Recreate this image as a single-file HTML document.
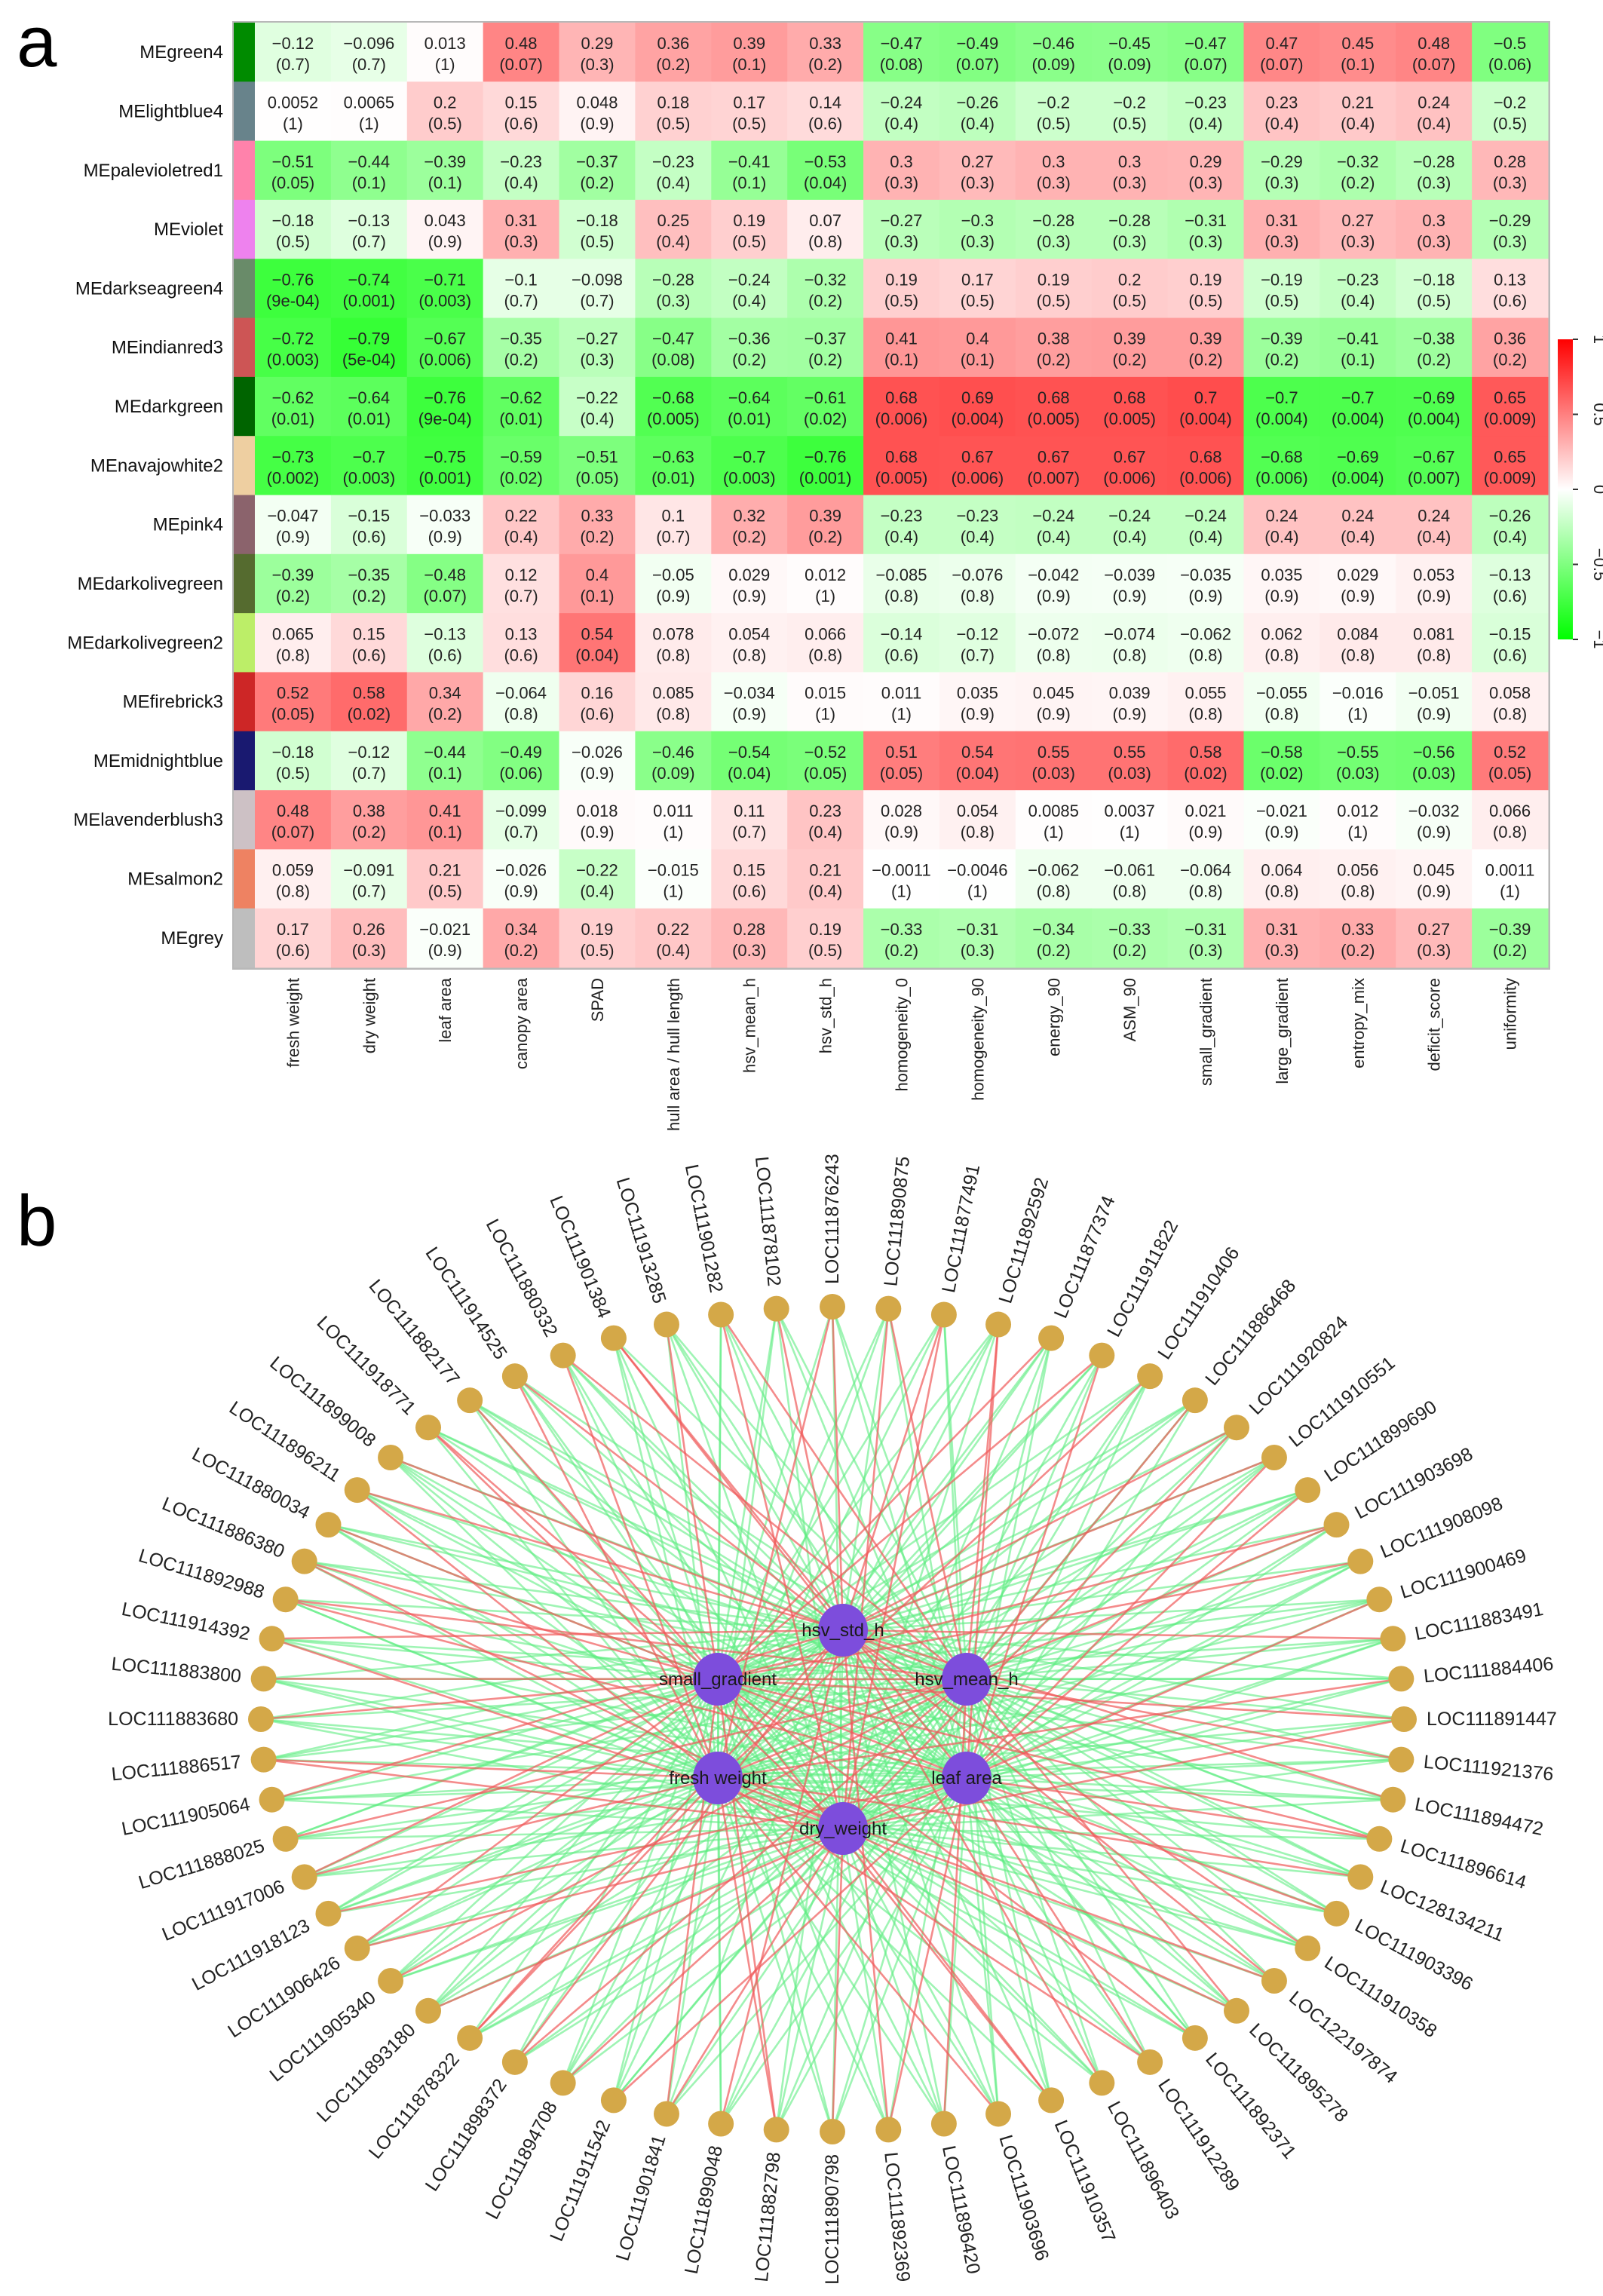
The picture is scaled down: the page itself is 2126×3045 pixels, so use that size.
<!DOCTYPE html>
<html><head><meta charset="utf-8">
<style>
html,body{margin:0;padding:0;background:#fff;}
svg{display:block;font-family:"Liberation Sans",Arial,sans-serif;}
</style></head>
<body>
<svg id="fig" width="2126" height="3045" viewBox="0 0 2126 3045" xmlns="http://www.w3.org/2000/svg">
<text x="22" y="88" font-size="96">a</text>
<text x="22" y="1652" font-size="96">b</text>
<g id="heat"></g>
<g id="legend"></g>
<g id="net"></g>
</svg>
<script>
const modules = ["MEgreen4","MElightblue4","MEpalevioletred1","MEviolet","MEdarkseagreen4","MEindianred3","MEdarkgreen","MEnavajowhite2","MEpink4","MEdarkolivegreen","MEdarkolivegreen2","MEfirebrick3","MEmidnightblue","MElavenderblush3","MEsalmon2","MEgrey"];
const moduleColors = ["#008b00","#68838b","#ff82ab","#ee82ee","#698b69","#cd5555","#006400","#eecfa1","#8b636c","#556b2f","#bcee68","#cd2626","#191970","#cdc1c5","#ee8262","#bebebe"];
const traits = ["fresh weight","dry weight","leaf area","canopy area","SPAD","hull area / hull length","hsv_mean_h","hsv_std_h","homogeneity_0","homogeneity_90","energy_90","ASM_90","small_gradient","large_gradient","entropy_mix","deficit_score","uniformity"];
const corr = [
[-0.12,-0.096,0.013,0.48,0.29,0.36,0.39,0.33,-0.47,-0.49,-0.46,-0.45,-0.47,0.47,0.45,0.48,-0.5],
[0.0052,0.0065,0.2,0.15,0.048,0.18,0.17,0.14,-0.24,-0.26,-0.2,-0.2,-0.23,0.23,0.21,0.24,-0.2],
[-0.51,-0.44,-0.39,-0.23,-0.37,-0.23,-0.41,-0.53,0.3,0.27,0.3,0.3,0.29,-0.29,-0.32,-0.28,0.28],
[-0.18,-0.13,0.043,0.31,-0.18,0.25,0.19,0.07,-0.27,-0.3,-0.28,-0.28,-0.31,0.31,0.27,0.3,-0.29],
[-0.76,-0.74,-0.71,-0.1,-0.098,-0.28,-0.24,-0.32,0.19,0.17,0.19,0.2,0.19,-0.19,-0.23,-0.18,0.13],
[-0.72,-0.79,-0.67,-0.35,-0.27,-0.47,-0.36,-0.37,0.41,0.4,0.38,0.39,0.39,-0.39,-0.41,-0.38,0.36],
[-0.62,-0.64,-0.76,-0.62,-0.22,-0.68,-0.64,-0.61,0.68,0.69,0.68,0.68,0.7,-0.7,-0.7,-0.69,0.65],
[-0.73,-0.7,-0.75,-0.59,-0.51,-0.63,-0.7,-0.76,0.68,0.67,0.67,0.67,0.68,-0.68,-0.69,-0.67,0.65],
[-0.047,-0.15,-0.033,0.22,0.33,0.1,0.32,0.39,-0.23,-0.23,-0.24,-0.24,-0.24,0.24,0.24,0.24,-0.26],
[-0.39,-0.35,-0.48,0.12,0.4,-0.05,0.029,0.012,-0.085,-0.076,-0.042,-0.039,-0.035,0.035,0.029,0.053,-0.13],
[0.065,0.15,-0.13,0.13,0.54,0.078,0.054,0.066,-0.14,-0.12,-0.072,-0.074,-0.062,0.062,0.084,0.081,-0.15],
[0.52,0.58,0.34,-0.064,0.16,0.085,-0.034,0.015,0.011,0.035,0.045,0.039,0.055,-0.055,-0.016,-0.051,0.058],
[-0.18,-0.12,-0.44,-0.49,-0.026,-0.46,-0.54,-0.52,0.51,0.54,0.55,0.55,0.58,-0.58,-0.55,-0.56,0.52],
[0.48,0.38,0.41,-0.099,0.018,0.011,0.11,0.23,0.028,0.054,0.0085,0.0037,0.021,-0.021,0.012,-0.032,0.066],
[0.059,-0.091,0.21,-0.026,-0.22,-0.015,0.15,0.21,-0.0011,-0.0046,-0.062,-0.061,-0.064,0.064,0.056,0.045,0.0011],
[0.17,0.26,-0.021,0.34,0.19,0.22,0.28,0.19,-0.33,-0.31,-0.34,-0.33,-0.31,0.31,0.33,0.27,-0.39]];
const pvals = [
["0.7","0.7","1","0.07","0.3","0.2","0.1","0.2","0.08","0.07","0.09","0.09","0.07","0.07","0.1","0.07","0.06"],
["1","1","0.5","0.6","0.9","0.5","0.5","0.6","0.4","0.4","0.5","0.5","0.4","0.4","0.4","0.4","0.5"],
["0.05","0.1","0.1","0.4","0.2","0.4","0.1","0.04","0.3","0.3","0.3","0.3","0.3","0.3","0.2","0.3","0.3"],
["0.5","0.7","0.9","0.3","0.5","0.4","0.5","0.8","0.3","0.3","0.3","0.3","0.3","0.3","0.3","0.3","0.3"],
["9e-04","0.001","0.003","0.7","0.7","0.3","0.4","0.2","0.5","0.5","0.5","0.5","0.5","0.5","0.4","0.5","0.6"],
["0.003","5e-04","0.006","0.2","0.3","0.08","0.2","0.2","0.1","0.1","0.2","0.2","0.2","0.2","0.1","0.2","0.2"],
["0.01","0.01","9e-04","0.01","0.4","0.005","0.01","0.02","0.006","0.004","0.005","0.005","0.004","0.004","0.004","0.004","0.009"],
["0.002","0.003","0.001","0.02","0.05","0.01","0.003","0.001","0.005","0.006","0.007","0.006","0.006","0.006","0.004","0.007","0.009"],
["0.9","0.6","0.9","0.4","0.2","0.7","0.2","0.2","0.4","0.4","0.4","0.4","0.4","0.4","0.4","0.4","0.4"],
["0.2","0.2","0.07","0.7","0.1","0.9","0.9","1","0.8","0.8","0.9","0.9","0.9","0.9","0.9","0.9","0.6"],
["0.8","0.6","0.6","0.6","0.04","0.8","0.8","0.8","0.6","0.7","0.8","0.8","0.8","0.8","0.8","0.8","0.6"],
["0.05","0.02","0.2","0.8","0.6","0.8","0.9","1","1","0.9","0.9","0.9","0.8","0.8","1","0.9","0.8"],
["0.5","0.7","0.1","0.06","0.9","0.09","0.04","0.05","0.05","0.04","0.03","0.03","0.02","0.02","0.03","0.03","0.05"],
["0.07","0.2","0.1","0.7","0.9","1","0.7","0.4","0.9","0.8","1","1","0.9","0.9","1","0.9","0.8"],
["0.8","0.7","0.5","0.9","0.4","1","0.6","0.4","1","1","0.8","0.8","0.8","0.8","0.8","0.9","1"],
["0.6","0.3","0.9","0.2","0.5","0.4","0.3","0.5","0.2","0.3","0.2","0.2","0.3","0.3","0.2","0.3","0.2"]];
const legendTicks = [1,0.5,0,-0.5,-1];
const genes = ["LOC111876243","LOC111890875","LOC111877491","LOC111892592","LOC111877374","LOC111911822","LOC111910406","LOC111886468","LOC111920824","LOC111910551","LOC111899690","LOC111903698","LOC111908098","LOC111900469","LOC111883491","LOC111884406","LOC111891447","LOC111921376","LOC111894472","LOC111896614","LOC128134211","LOC111903396","LOC111910358","LOC122197874","LOC111895278","LOC111892371","LOC111912289","LOC111896403","LOC111910357","LOC111903696","LOC111896420","LOC111892369","LOC111890798","LOC111882798","LOC111899048","LOC111901841","LOC111911542","LOC111894708","LOC111898372","LOC111878322","LOC111893180","LOC111905340","LOC111906426","LOC111918123","LOC111917006","LOC111888025","LOC111905064","LOC111886517","LOC111883680","LOC111883800","LOC111914392","LOC111892988","LOC111886380","LOC111880034","LOC111896211","LOC111899008","LOC111918771","LOC111882177","LOC111914525","LOC111880332","LOC111901384","LOC111913285","LOC111901282","LOC111878102"];
const hubs = ["hsv_std_h","small_gradient","hsv_mean_h","fresh weight","leaf area","dry_weight"];
// edge sign per gene, one char per hub (order as hubs): r = positive (red), g = negative (green)
const edgeSigns = ["rggrgg","ggrggr","rggggr","ggrgrg","grgggg","grggrg","gggrgg","ggrggg","rggggr","rgggrg","ggggrg","grgrgg","grgggg","ggggrg","rggggg","gggrgg","grgggr","ggrggg","rggggg","grggrg","gggrgg","ggggrg","rggggg","rggrgg","ggrggr","grgggg","gggrrg","rggggg","grgggr","gggrgg","ggrggg","rgggrg","gggggr","grgrgg","rggggg","grgggr","ggggrg","gggggr","rgrggg","rggrgg","ggggrg","ggrggg","grgggr","ggggrg","grgrgg","ggrggg","rggggg","gggrgr","grgggg","ggrggg","rggggr","ggrgrg","grgggr","ggggrg","rggrgg","ggrggg","grgggr","grgggg","rggrgg","ggrrgg","rgggrg","grgggg","ggrggr","rggggg"];

const NS="http://www.w3.org/2000/svg";
function mk(tag,attrs,parent,text){const e=document.createElementNS(NS,tag);for(const k in attrs)e.setAttribute(k,attrs[k]);if(text!==undefined)e.textContent=text;parent.appendChild(e);return e;}
function fmt(v){return (v<0?"\u2212":"")+String(Math.abs(v));}
function colorOf(v){const a=Math.min(1,Math.abs(v));const c=Math.round(255*(1-a));return v>=0?`rgb(255,${c},${c})`:`rgb(${c},255,${c})`;}

// ---- heatmap
const heat=document.getElementById('heat');
const X0=338,Y0=30,X1=2053,Y1=1283;
const cw=(X1-X0)/traits.length, rh=(Y1-Y0)/modules.length;
const xs=j=>X0+j*cw, ys=i=>Y0+i*rh;
const shadow=mk('rect',{x:X0-30,y:Y0-2,width:X1-X0+33,height:Y1-Y0+5,fill:'#b8b8b8'},heat);


modules.forEach((m,i)=>{
  const sw=mk('rect',{x:X0-28,y:ys(i),width:28,height:rh+0.5,fill:moduleColors[i]},heat);
  
  
  const lb=mk('text',{x:X0-42,y:ys(i)+rh/2+8,'font-size':24,'text-anchor':'end',fill:'#111'},heat,m);
  
  
  traits.forEach((t,j)=>{
    const v=corr[i][j];
    const r=mk('rect',{x:xs(j),y:ys(i),width:cw+0.5,height:rh+0.5,fill:colorOf(v)},heat);
    
    
    const tx=xs(j)+cw/2;
    const t1=mk('text',{x:tx,y:ys(i)+rh/2-4,'font-size':22,'text-anchor':'middle',fill:'#222'},heat,fmt(v));
    
    
    const t2=mk('text',{x:tx,y:ys(i)+rh/2+24,'font-size':22,'text-anchor':'middle',fill:'#222'},heat,'('+pvals[i][j]+')');
    
    
  });
});
traits.forEach((t,j)=>{
  const tx=xs(j)+cw/2+8;
  const lb=mk('text',{x:0,y:0,'font-size':22,'text-anchor':'end',fill:'#222',transform:`translate(${tx},${Y1+14}) rotate(-90)`},heat,t);
  
  
});

// ---- legend
const leg=document.getElementById('legend');
const defs=mk('defs',{},leg);
const gr=mk('linearGradient',{id:'lg',x1:0,y1:0,x2:0,y2:1},defs);
mk('stop',{offset:'0',  'stop-color':'#ff0000'},gr);
mk('stop',{offset:'0.5','stop-color':'#ffffff'},gr);
mk('stop',{offset:'1',  'stop-color':'#00ff00'},gr);
const LY0=450,LY1=848;
const ly=v=>LY0+(1-v)/2*(LY1-LY0);
const bar=mk('rect',{x:2066,y:LY0,width:20,height:LY1-LY0,fill:'url(#lg)'},leg);


legendTicks.forEach(v=>{
  mk('line',{x1:2086,x2:2093,y1:ly(v),y2:ly(v),stroke:'#333','stroke-width':2},leg);
  const t=mk('text',{x:0,y:0,'font-size':22,'text-anchor':'middle',fill:'#222',transform:`translate(${2114},${ly(v)}) rotate(90)`},leg,fmt(v));
  
  
});

// ---- network
const net=document.getElementById('net');
const CX=1104,CY=2280,RX=758,RY=547;
const hubPos=[[1118,2162],[952,2227],[1282,2227],[952,2358],[1282,2358],[1118,2425]];
const N=genes.length;
const gpos=genes.map((g,k)=>{const t=-Math.PI/2+k*2*Math.PI/N;return [CX+RX*Math.cos(t),CY+RY*Math.sin(t),t];});
const eg=mk('g',{},net);


['g','r'].forEach(pass=>{
  genes.forEach((g,k)=>{
    hubs.forEach((h,m)=>{
      const s=edgeSigns[k][m];
      if(s!==pass)return;
      const l=mk('line',{x1:gpos[k][0],y1:gpos[k][1],x2:hubPos[m][0],y2:hubPos[m][1],stroke:s==='r'?'#f05a5a':'#5fec82','stroke-opacity':s==='r'?0.7:0.6,'stroke-width':2.6},eg);
      
      
    });
  });
});
genes.forEach((g,k)=>{
  const [x,y,t]=gpos[k];
  const c=mk('circle',{cx:x,cy:y,r:17,fill:'#d4a848'},net);
  
  
  let deg=t*180/Math.PI;
  const ox=x+30*Math.cos(t), oy=y+30*Math.sin(t);
  const right=Math.cos(t)>0.001 || (Math.abs(Math.cos(t))<=0.001 && k===0);
  let rot=right?deg:deg+180;
  const lb=mk('text',{x:0,y:0,'font-size':25,fill:'#222','text-anchor':right?'start':'end','dominant-baseline':'central',transform:`translate(${ox},${oy}) rotate(${rot})`},net,g);
  
  
});
hubs.forEach((h,m)=>{
  const [x,y]=hubPos[m];
  const e=mk('ellipse',{cx:x,cy:y,rx:33,ry:35,fill:'#7d4ddc'},net);
  
  
  const t=mk('text',{x:x,y:y+8,'font-size':24,'text-anchor':'middle',fill:'#1a1a1a'},net,h);
  
  
});
</script>
</body></html>
